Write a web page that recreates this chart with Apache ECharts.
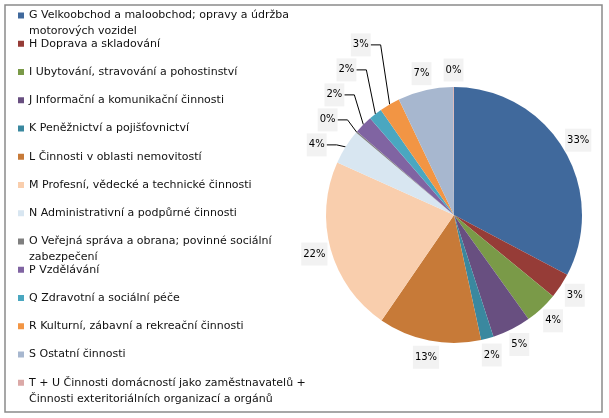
<!DOCTYPE html>
<html>
<head>
<meta charset="utf-8">
<script src="https://cdn.jsdelivr.net/npm/echarts@6/dist/echarts.min.js"></script>
<style>html,body{margin:0;padding:0;background:#fff}#c{width:609px;height:418px}</style>
</head>
<body>
<div id="c"></div>
<script>
const categories = [
  'G Velkoobchod a maloobchod; opravy a údržba motorových vozidel',
  'H Doprava a skladování',
  'I Ubytování, stravování a pohostinství',
  'J Informační a komunikační činnosti',
  'K Peněžnictví a pojišťovnictví',
  'L Činnosti v oblasti nemovitostí',
  'M Profesní, vědecké a technické činnosti',
  'N Administrativní a podpůrné činnosti',
  'O Veřejná správa a obrana; povinné sociální zabezpečení',
  'P Vzdělávání',
  'Q Zdravotní a sociální péče',
  'R Kulturní, zábavní a rekreační činnosti',
  'S Ostatní činnosti',
  'T + U Činnosti domácností jako zaměstnavatelů + Činnosti exteritoriálních organizací a orgánů'
];
const legendLabels = [
  'G Velkoobchod a maloobchod; opravy a údržba\nmotorových vozidel',
  'H Doprava a skladování',
  'I Ubytování, stravování a pohostinství',
  'J Informační a komunikační činnosti',
  'K Peněžnictví a pojišťovnictví',
  'L Činnosti v oblasti nemovitostí',
  'M Profesní, vědecké a technické činnosti',
  'N Administrativní a podpůrné činnosti',
  'O Veřejná správa a obrana; povinné sociální\nzabezpečení',
  'P Vzdělávání',
  'Q Zdravotní a sociální péče',
  'R Kulturní, zábavní a rekreační činnosti',
  'S Ostatní činnosti',
  'T + U Činnosti domácností jako zaměstnavatelů +\nČinnosti exteritoriálních organizací a orgánů'
];
const values = [32.8, 3.2, 4.2, 4.9, 1.6, 13.0, 22.2, 4.4, 0.2, 2.3, 1.7, 2.6, 7.0, 0.1];
const colors = ['#40699C', '#963C37', '#7A9A48', '#684F80', '#3A889F', '#C77A38', '#F9CEAD',
                '#D8E6F1', '#7F7F7F', '#8064A2', '#4AA7C0', '#F29544', '#A7B7CF', '#DBA9A7'];
const leaderIdx = [7, 8, 9, 10, 11];

const CX = 454, CY = 215, R = 128, LABEL_R = 145;
const total = values.reduce((a, b) => a + b, 0);
function midDir(i) {
  let cum = 0;
  for (let k = 0; k < i; k++) cum += values[k];
  const a = (cum + values[i] / 2) / total * Math.PI * 2;
  return [Math.sin(a), -Math.cos(a)];
}
function edge(i) { const d = midDir(i); return [CX + R * d[0], CY + R * d[1]]; }

const font = 'DejaVu Sans';
const chart = echarts.init(document.getElementById('c'), null, { renderer: 'canvas' });

const legends = categories.map((name, i) => {
  const twoLine = legendLabels[i].indexOf('\n') >= 0;
  const iconY = 15.5 + 28.25 * i;
  return {
    data: [name],
    orient: 'vertical',
    left: 18,
    top: iconY - (twoLine ? 24 : 8),
    padding: 0,
    icon: 'rect',
    itemWidth: 6,
    itemHeight: 6,
    selectedMode: false,
    formatter: () => (twoLine ? '\n' + legendLabels[i] : legendLabels[i]),
    textStyle: { fontFamily: font, fontSize: 11, color: '#111', lineHeight: 16 }
  };
});

const data = categories.map((name, i) => {
  const item = { name: name, value: values[i], itemStyle: { color: colors[i] } };
  if (leaderIdx.indexOf(i) >= 0) item.labelLine = { show: true };
  return item;
});

chart.setOption({
  animation: false,
  legend: legends,
  graphic: [{
    type: 'rect', shape: { x: 5, y: 5, width: 597, height: 407 },
    style: { fill: 'none', stroke: '#8a8a8a', lineWidth: 1.5 }, silent: true
  }],
  series: [{
    type: 'pie',
    center: [CX, CY],
    radius: R,
    startAngle: 90,
    clockwise: true,
    avoidLabelOverlap: false,
    itemStyle: { borderWidth: 0 },
    emphasis: { disabled: true },
    label: {
      show: true,
      position: 'outside',
      formatter: p => Math.round(p.value / total * 100) + '%',
      fontFamily: font, fontSize: 10, color: '#000', lineHeight: 11,
      backgroundColor: '#F2F2F2', padding: [6, 2]
    },
    labelLine: { show: false, lineStyle: { color: '#000', width: 1 } },
    labelLayout: function (params) {
      const i = params.dataIndex;
      const k = leaderIdx.indexOf(i);
      if (k < 0) {
        const d = midDir(i);
        return { x: CX + LABEL_R * d[0], y: CY + LABEL_R * d[1], align: 'center', verticalAlign: 'middle' };
      }
      const p0 = edge(i);
      const ly = edge(leaderIdx[0])[1] - 2 - 25 * k;
      const elbow = [p0[0] - 9, ly];
      const end = [p0[0] - 19, ly];
      return { x: end[0], y: ly, align: 'right', verticalAlign: 'middle', labelLinePoints: [p0, elbow, end] };
    },
    data: data
  }]
});
</script>
</body>
</html>
